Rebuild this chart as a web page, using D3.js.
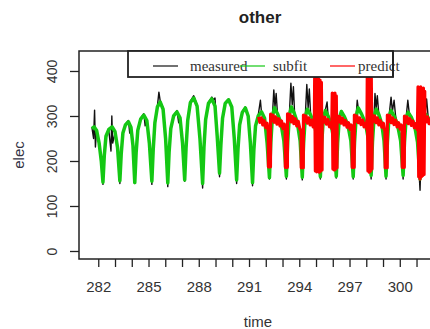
<!DOCTYPE html>
<html>
<head>
<meta charset="utf-8">
<script src="https://cdn.jsdelivr.net/npm/d3@7"></script>
<style>
  body { margin: 0; background: #fff; }
  svg { display: block; }
</style>
</head>
<body>
<script>
// measured / subfit / predict as [time, elec]
const measured = [
  [281.62, 275], [281.72, 250], [281.78, 313], [281.83, 231], [281.9, 270], [282.05, 238], [282.18, 198], [282.28, 148],
  [282.36, 210], [282.46, 252], [282.63, 268], [282.76, 222], [282.81, 300], [282.86, 240], [283.0, 262], [283.15, 228], [283.29, 150],
  [283.37, 213], [283.47, 260], [283.62, 282], [283.8, 290], [283.88, 262], [283.95, 278], [284.07, 233], [284.18, 150],
  [284.26, 216], [284.36, 266], [284.53, 295], [284.72, 305], [284.8, 278], [284.9, 292], [285.05, 238], [285.2, 148],
  [285.28, 223], [285.38, 283], [285.53, 322], [285.62, 353], [285.7, 333], [285.87, 318], [286.02, 248], [286.15, 143],
  [286.23, 218], [286.33, 270], [286.5, 302], [286.7, 312], [286.8, 285], [286.88, 298], [287.03, 238], [287.16, 155],
  [287.24, 226], [287.34, 288], [287.5, 333], [287.7, 345], [287.9, 325], [288.07, 248], [288.23, 140],
  [288.31, 228], [288.41, 290], [288.58, 330], [288.78, 342], [288.88, 336], [288.97, 340], [289.1, 252], [289.24, 165],
  [289.32, 233], [289.42, 293], [289.58, 330], [289.78, 338], [289.97, 322], [290.12, 248], [290.26, 150],
  [290.34, 223], [290.44, 278], [290.6, 310], [290.78, 320], [290.95, 302], [291.08, 238], [291.21, 145],
  [291.29, 223], [291.39, 276], [291.55, 302], [291.68, 335], [291.75, 305], [291.93, 297], [292.08, 238], [292.22, 160],
  [292.3, 238], [292.4, 302], [292.48, 358], [292.55, 320], [292.62, 350], [292.7, 305], [292.9, 283], [293.08, 243], [293.23, 160],
  [293.31, 240], [293.41, 305], [293.5, 373], [293.58, 325], [293.65, 365], [293.72, 306], [293.88, 284], [294.05, 243], [294.18, 158],
  [294.26, 238], [294.36, 300], [294.45, 370], [294.53, 318], [294.6, 360], [294.68, 302], [294.9, 280], [295.1, 243], [295.26, 160],
  [295.34, 238], [295.44, 298], [295.56, 314], [295.66, 331], [295.72, 300], [295.9, 280], [296.07, 243], [296.21, 162],
  [296.29, 238], [296.39, 297], [296.51, 312], [296.7, 300], [296.9, 278], [297.08, 243], [297.22, 160],
  [297.3, 240], [297.4, 302], [297.46, 335], [297.52, 318], [297.72, 304], [297.95, 282], [298.14, 243], [298.29, 160],
  [298.37, 240], [298.47, 302], [298.52, 350], [298.59, 318], [298.66, 345], [298.75, 303], [298.92, 281], [299.06, 243], [299.18, 160],
  [299.26, 238], [299.36, 300], [299.48, 342], [299.56, 310], [299.66, 335], [299.75, 300], [299.86, 280], [300.05, 243], [300.2, 160],
  [300.28, 238], [300.38, 297], [300.48, 335], [300.56, 308], [300.68, 298], [300.88, 278], [301.06, 240], [301.21, 135],
  [301.29, 236], [301.39, 294], [301.46, 340], [301.52, 305], [301.6, 338], [301.7, 296], [301.9, 278]
];

const subfit = [
  [281.62, 272], [281.75, 276], [281.9, 268], [282.05, 240], [282.18, 200], [282.28, 153],
  [282.36, 212], [282.46, 255], [282.63, 270], [282.83, 276], [283.0, 265], [283.15, 230], [283.29, 156],
  [283.37, 215], [283.47, 262], [283.62, 280], [283.8, 287], [283.95, 275], [284.07, 235], [284.18, 152],
  [284.26, 218], [284.36, 268], [284.53, 293], [284.72, 302], [284.9, 290], [285.05, 240], [285.2, 155],
  [285.28, 225], [285.38, 285], [285.53, 320], [285.7, 331], [285.87, 315], [286.02, 250], [286.15, 151],
  [286.23, 220], [286.33, 272], [286.5, 300], [286.7, 309], [286.88, 296], [287.03, 240], [287.16, 158],
  [287.24, 228], [287.34, 290], [287.5, 330], [287.7, 340], [287.9, 322], [288.07, 250], [288.23, 150],
  [288.31, 230], [288.41, 292], [288.58, 328], [288.78, 338], [288.97, 322], [289.1, 255], [289.24, 173],
  [289.32, 235], [289.42, 295], [289.58, 328], [289.78, 336], [289.97, 320], [290.12, 250], [290.26, 158],
  [290.34, 225], [290.44, 280], [290.6, 308], [290.78, 318], [290.95, 300], [291.08, 240], [291.21, 152],
  [291.29, 225], [291.39, 278], [291.55, 300], [291.75, 309], [291.93, 295], [292.08, 240], [292.22, 163],
  [292.3, 240], [292.4, 300], [292.52, 318], [292.7, 305], [292.9, 285], [293.08, 245], [293.23, 166],
  [293.31, 242], [293.41, 302], [293.53, 320], [293.7, 306], [293.88, 286], [294.05, 245], [294.18, 164],
  [294.26, 240], [294.36, 298], [294.48, 315], [294.68, 302], [294.9, 282], [295.1, 245], [295.26, 165],
  [295.34, 240], [295.44, 296], [295.56, 312], [295.72, 300], [295.9, 282], [296.07, 245], [296.21, 166],
  [296.29, 240], [296.39, 295], [296.51, 310], [296.7, 298], [296.9, 280], [297.08, 245], [297.22, 165],
  [297.3, 242], [297.4, 300], [297.52, 318], [297.72, 304], [297.95, 284], [298.14, 245], [298.29, 168],
  [298.37, 242], [298.47, 300], [298.59, 315], [298.75, 303], [298.92, 283], [299.06, 245], [299.18, 166],
  [299.26, 240], [299.36, 298], [299.48, 312], [299.66, 300], [299.86, 282], [300.05, 245], [300.2, 168],
  [300.28, 240], [300.38, 295], [300.5, 308], [300.68, 298], [300.88, 280], [301.06, 242], [301.21, 160],
  [301.29, 238], [301.39, 292], [301.51, 305], [301.7, 296], [301.9, 280]
];

const predict = [
  [291.57, 298], [291.65, 286], [291.73, 296], [291.82, 280], [291.9, 290], [292.0, 274], [292.08, 284], [292.15, 266],
  [292.16, 187], [292.28, 187],
  [292.29, 304], [292.36, 290], [292.43, 302], [292.5, 286], [292.58, 298], [292.67, 282], [292.76, 294],
  [292.85, 278], [292.94, 289], [293.03, 272], [293.1, 282], [293.16, 268], [293.17, 186], [293.29, 186],
  [293.3, 305], [293.37, 291], [293.44, 303], [293.52, 287], [293.6, 299], [293.68, 283], [293.76, 294],
  [293.85, 278], [293.94, 288], [294.03, 272], [294.11, 266], [294.12, 185], [294.24, 185],
  [294.25, 302], [294.32, 288], [294.4, 300], [294.48, 284], [294.56, 296], [294.65, 280], [294.74, 291],
  [294.83, 276], [294.9, 284],
  [294.92, 384], [294.96, 178], [295.0, 380], [295.04, 176], [295.08, 384], [295.12, 178],
  [295.16, 382], [295.2, 175], [295.24, 380], [295.28, 178], [295.32, 375], [295.36, 180],
  [295.37, 300], [295.45, 286], [295.53, 297], [295.62, 282], [295.71, 292], [295.8, 276], [295.88, 285], [295.94, 272],
  [295.97, 351], [296.01, 182], [296.05, 348], [296.09, 180], [296.13, 351], [296.17, 182], [296.21, 345], [296.25, 185],
  [296.26, 300], [296.33, 287], [296.41, 299], [296.49, 284], [296.58, 295], [296.67, 280], [296.76, 290],
  [296.85, 275], [296.94, 285], [297.03, 270], [297.1, 280], [297.15, 266], [297.16, 186], [297.28, 186],
  [297.29, 302], [297.36, 288], [297.44, 300], [297.52, 285], [297.6, 296], [297.69, 281], [297.78, 291],
  [297.87, 276], [297.96, 284], [298.04, 270],
  [298.06, 391], [298.1, 178], [298.14, 388], [298.18, 175], [298.22, 391], [298.26, 178], [298.3, 385], [298.34, 182],
  [298.35, 302], [298.42, 288], [298.5, 300], [298.58, 285], [298.66, 296], [298.75, 280], [298.84, 290],
  [298.93, 275], [299.02, 284], [299.08, 270], [299.12, 266], [299.13, 185], [299.25, 185],
  [299.26, 302], [299.33, 288], [299.41, 301], [299.49, 285], [299.57, 296], [299.66, 281], [299.75, 291],
  [299.84, 276], [299.93, 285], [300.02, 271], [300.09, 280], [300.14, 266], [300.15, 186], [300.27, 186],
  [300.28, 300], [300.35, 286], [300.43, 298], [300.51, 283], [300.6, 294], [300.69, 279], [300.78, 289],
  [300.87, 274], [300.96, 283], [301.05, 270],
  [301.09, 365], [301.13, 165], [301.17, 362], [301.21, 160], [301.25, 365], [301.29, 165],
  [301.33, 360], [301.37, 168], [301.41, 362], [301.45, 170], [301.49, 355],
  [301.5, 300], [301.58, 287], [301.66, 298], [301.75, 283], [301.84, 292], [301.92, 280]
];

const xTicks = d3.range(282, 303);
const xLabelStep = 3;
const yTicks = [0, 100, 200, 300, 400];
const legendNames = ["measured", "subfit", "predict"];
const legendColors = ["#111", "#14c814", "#ff0000"];

const width = 430;
const height = 329;
const plot = { left: 79, right: 445, top: 51, bottom: 259 };

const svg = d3.select("body").append("svg")
    .attr("width", width)
    .attr("height", height)
    .style("font-family", "'Liberation Sans', Arial, sans-serif");

const x = d3.scaleLinear().domain([280.85, 302.7]).range([plot.left, plot.right]);
const y = d3.scaleLinear().domain([-17.8, 444.4]).range([plot.bottom, plot.top]);

svg.append("clipPath").attr("id", "clip")
  .append("rect")
    .attr("x", plot.left).attr("y", plot.top)
    .attr("width", plot.right - plot.left)
    .attr("height", plot.bottom - plot.top);

const line = d3.line().x(d => x(d[0])).y(d => y(d[1]));

// series: measured under, subfit, predict on top
const series = [
  { data: measured, color: legendColors[0], w: 1.4 },
  { data: subfit, color: legendColors[1], w: 3.5 },
  { data: predict, color: legendColors[2], w: 3.2 }
];
svg.append("g").attr("clip-path", "url(#clip)")
  .selectAll("path")
  .data(series)
  .enter().append("path")
    .attr("fill", "none")
    .attr("stroke", d => d.color)
    .attr("stroke-width", d => d.w)
    .attr("stroke-linejoin", "round")
    .attr("d", d => line(d.data));

// x axis
const xAxis = svg.append("g")
    .attr("transform", `translate(0,${plot.bottom})`)
    .call(d3.axisBottom(x)
        .tickValues(xTicks)
        .tickSize(8)
        .tickPadding(14)
        .tickFormat(d => (d - 282) % xLabelStep === 0 ? d : ""));
xAxis.select(".domain").remove();
xAxis.selectAll("line").attr("stroke", "#222").attr("stroke-width", 1.3);
xAxis.selectAll("text").style("font-size", "15px").attr("fill", "#333");

// y axis, labels turned like R
const yAxis = svg.append("g")
    .attr("transform", `translate(${plot.left},0)`)
    .call(d3.axisLeft(y).tickValues(yTicks).tickSize(9));
yAxis.select(".domain").remove();
yAxis.selectAll("line").attr("stroke", "#222").attr("stroke-width", 1.3);
yAxis.selectAll("text")
    .attr("x", null).attr("dy", null)
    .attr("transform", "translate(-22,0) rotate(-90)")
    .attr("text-anchor", "middle")
    .style("font-size", "14px")
    .attr("fill", "#333");

// box
svg.append("rect")
    .attr("x", plot.left).attr("y", plot.top)
    .attr("width", plot.right - plot.left)
    .attr("height", plot.bottom - plot.top)
    .attr("fill", "none")
    .attr("stroke", "#222")
    .attr("stroke-width", 1.5);

// titles
svg.append("text")
    .attr("x", 260).attr("y", 23)
    .attr("text-anchor", "middle")
    .style("font-size", "17px").style("font-weight", "bold")
    .attr("fill", "#222")
    .text("other");
svg.append("text")
    .attr("x", 258).attr("y", 327)
    .attr("text-anchor", "middle")
    .style("font-size", "15px")
    .attr("fill", "#333")
    .text("time");
svg.append("text")
    .attr("transform", "translate(24,155) rotate(-90)")
    .attr("text-anchor", "middle")
    .style("font-size", "15px")
    .attr("fill", "#334")
    .text("elec");

// legend
const legend = svg.append("g");
legend.append("rect")
    .attr("x", 128).attr("y", 51)
    .attr("width", 265).attr("height", 26)
    .attr("fill", "#fff")
    .attr("stroke", "#222")
    .attr("stroke-width", 1.8);
const legX = [153, 240, 330];
const legTextX = [190, 273, 358];
legend.selectAll(".legtext")
  .data(legendNames)
  .enter().append("text")
    .attr("class", "legtext")
    .attr("x", (d, i) => legTextX[i]).attr("y", 71)
    .style("font-family", "'Liberation Serif', 'Times New Roman', serif")
    .style("font-size", "15px")
    .attr("fill", "#333")
    .text(d => d);
legend.selectAll(".legline")
  .data(legendNames)
  .enter().append("line")
    .attr("class", "legline")
    .attr("x1", (d, i) => legX[i]).attr("x2", (d, i) => legX[i] + 25)
    .attr("y1", 66).attr("y2", 66)
    .attr("stroke", (d, i) => legendColors[i])
    .attr("stroke-width", 1.2);
// box line crosses "predict" in the original
legend.append("line")
    .attr("x1", 393).attr("x2", 393).attr("y1", 51).attr("y2", 77)
    .attr("stroke", "#222").attr("stroke-width", 1.8);
</script>
</body>
</html>
